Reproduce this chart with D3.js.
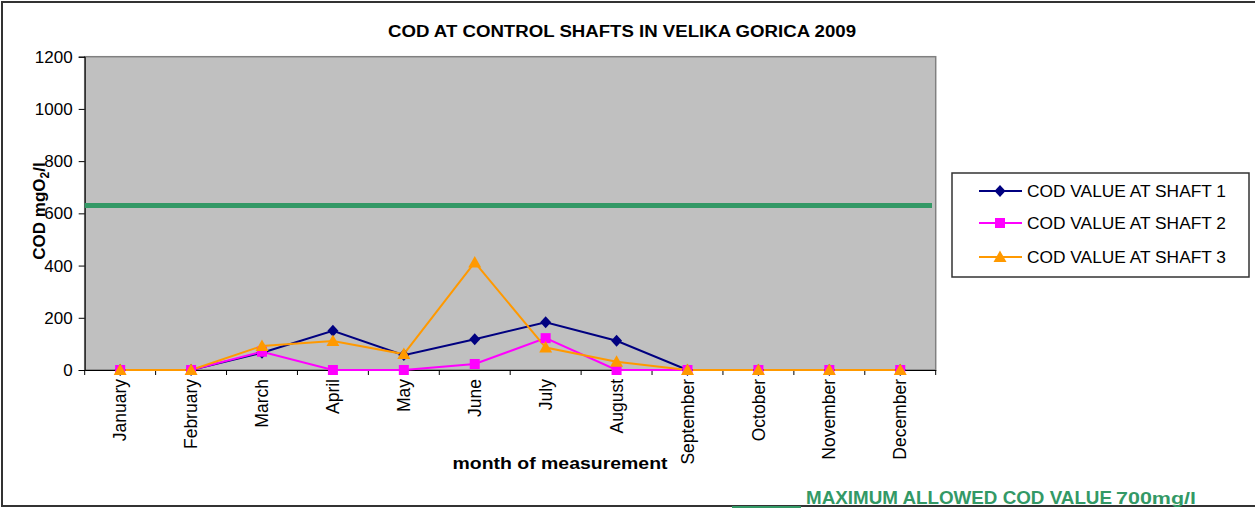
<!DOCTYPE html>
<html><head><meta charset="utf-8">
<script src="https://cdn.jsdelivr.net/npm/d3@7"></script>
<style>body{margin:0;background:#fff}svg{display:block}text{font-family:"Liberation Sans",Arial,sans-serif}</style>
</head><body>
<svg id="c" width="1255" height="509"></svg>
<script>
const months = ["January","February","March","April","May","June","July","August","September","October","November","December"];
const shaft1 = [0,0,66,150,57,118,183,112,0,0,0,0];
const shaft2 = [0,0,70,0,0,23,122,0,0,0,0,0];
const shaft3 = [0,0,92,111,61,412,86,32,0,0,0,0];
const seriesNames = ["COD VALUE AT SHAFT 1","COD VALUE AT SHAFT 2","COD VALUE AT SHAFT 3"];
const yTicks = [0,200,400,600,800,1000,1200];
const limitValue = 630;

const svg = d3.select("#c");
const L = 84.7, R = 935.7, T = 56.7, B = 370;
const x = d3.scaleBand().domain(months).range([L, R]);
const y = d3.scaleLinear().domain([0, 1200]).range([B, T]);

svg.append("rect").attr("x",2).attr("y",2).attr("width",1265).attr("height",504)
  .attr("fill","#fff").attr("stroke","#333").attr("stroke-width",2);

svg.append("rect").attr("x",L).attr("y",T).attr("width",R-L).attr("height",B-T)
  .attr("fill","#c0c0c0").attr("stroke","#808080").attr("stroke-width",1.5);

const ya = svg.append("g").attr("transform",`translate(${L},0)`)
  .call(d3.axisLeft(y).tickValues(yTicks).tickSize(6).tickPadding(6).tickFormat(d3.format("d")));
ya.selectAll("text").attr("font-size",17).attr("fill","#000").style("font-family","'Liberation Sans',Arial,sans-serif");
ya.select(".domain").attr("stroke","#000");

const xa = svg.append("g").attr("transform",`translate(0,${B})`)
  .call(d3.axisBottom(x).tickSize(0).tickFormat(d=>d));
xa.select(".domain").attr("stroke","#000");
xa.selectAll(".tick text").attr("font-size",17.5).attr("fill","#000")
  .attr("transform","rotate(-90)").attr("text-anchor","end")
  .attr("x",-9).attr("y",0).attr("dy","0.35em")
  .style("font-family","'Liberation Sans',Arial,sans-serif");
const bounds = months.map(m=>x(m)).concat([R]);
svg.append("g").selectAll("line").data(bounds).join("line")
  .attr("x1",d=>d).attr("x2",d=>d).attr("y1",B).attr("y2",B+5).attr("stroke","#000");

svg.append("line").attr("x1",L).attr("x2",932).attr("y1",y(limitValue)).attr("y2",y(limitValue))
  .attr("stroke","#339966").attr("stroke-width",5);

const colors = ["#000080","#ff00ff","#ff9900"];
const data = [shaft1, shaft2, shaft3];
const cx = m => x(m) + x.bandwidth()/2;
const line = d3.line().x((d,i)=>cx(months[i])).y(d=>y(d));

function marker(g, k, px, py){
  if(k===0){
    g.append("path").attr("d",`M${px},${py-6}L${px+5.5},${py}L${px},${py+6}L${px-5.5},${py}Z`).attr("fill",colors[k]);
  } else if(k===1){
    g.append("rect").attr("x",px-5).attr("y",py-5).attr("width",10).attr("height",10).attr("fill",colors[k]);
  } else {
    g.append("path").attr("d",`M${px},${py-6.5}L${px+6.5},${py+5}L${px-6.5},${py+5}Z`).attr("fill",colors[k]);
  }
}

data.forEach((s,k)=>{
  svg.append("path").datum(s).attr("d",line).attr("fill","none").attr("stroke",colors[k]).attr("stroke-width",2);
});
data.forEach((s,k)=>{
  const g = svg.append("g");
  s.forEach((v,i)=>marker(g,k,cx(months[i]),y(v)));
});

svg.append("text").attr("x",622).attr("y",37).attr("text-anchor","middle")
  .attr("font-size",16).attr("font-weight","bold").attr("textLength",468).attr("lengthAdjust","spacingAndGlyphs")
  .text("COD AT CONTROL SHAFTS IN VELIKA GORICA 2009");

const yt = svg.append("text").attr("transform","translate(45,211) rotate(-90)").attr("text-anchor","middle")
  .attr("font-size",17).attr("font-weight","bold");
yt.append("tspan").text("COD mgO");
yt.append("tspan").attr("font-size",12).attr("dy",4).text("2");
yt.append("tspan").attr("dy",-4).text("/l");

svg.append("text").attr("x",560).attr("y",469).attr("text-anchor","middle")
  .attr("font-size",17).attr("font-weight","bold").attr("textLength",215).attr("lengthAdjust","spacingAndGlyphs")
  .text("month of measurement");

svg.append("rect").attr("x",952).attr("y",173).attr("width",297).attr("height",104)
  .attr("fill","#fff").attr("stroke","#333").attr("stroke-width",1.5);
const ly = [191, 223, 257];
seriesNames.forEach((n,k)=>{
  const g = svg.append("g");
  g.append("line").attr("x1",979).attr("x2",1022).attr("y1",ly[k]).attr("y2",ly[k]).attr("stroke",colors[k]).attr("stroke-width",2);
  marker(g,k,1000,ly[k]);
  g.append("text").attr("x",1027).attr("y",ly[k]).attr("dy","0.35em").attr("font-size",16)
    .attr("textLength",199).attr("lengthAdjust","spacingAndGlyphs").text(n);
});

svg.append("line").attr("x1",732).attr("x2",801).attr("y1",507).attr("y2",507).attr("stroke","#339966").attr("stroke-width",2);
const note = svg.append("text").attr("x",806).attr("y",504).attr("fill","#339966").attr("font-weight","bold");
note.append("tspan").attr("font-size",19).attr("textLength",306).attr("lengthAdjust","spacingAndGlyphs").text("MAXIMUM ALLOWED COD VALUE");
note.append("tspan").attr("font-size",17).attr("dx",4).attr("textLength",80).attr("lengthAdjust","spacingAndGlyphs").text("700mg/l");
</script>
</body></html>
